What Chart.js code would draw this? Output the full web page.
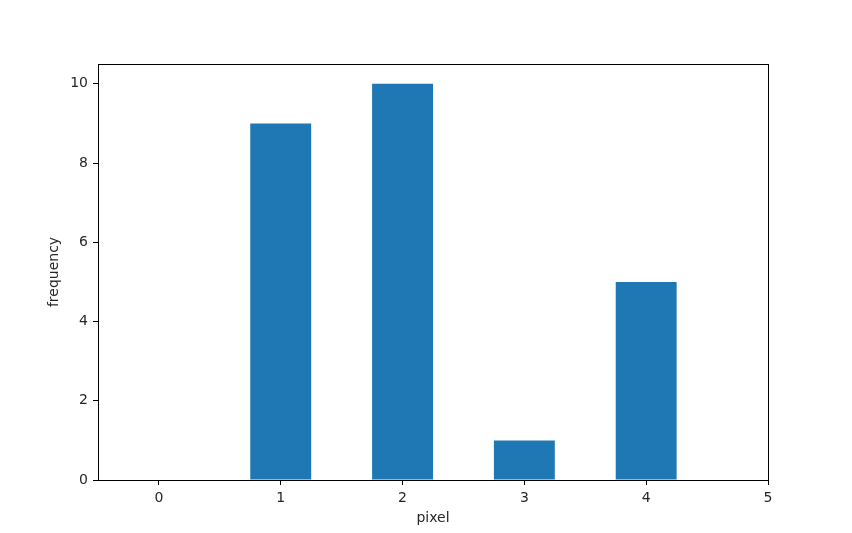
<!DOCTYPE html>
<html>
<head>
<meta charset="utf-8">
<script src="https://cdn.jsdelivr.net/npm/chart.js@4/dist/chart.umd.min.js"></script>
<style>
html,body{margin:0;padding:0;background:#fff;}
#wrap{width:852px;height:533px;}
</style>
</head>
<body>
<div id="wrap"><canvas id="c" width="852" height="533"></canvas></div>
<script>
const pixels = [0, 1, 2, 3, 4];
const frequency = [0, 9, 10, 1, 5];
const xTicks = [0, 1, 2, 3, 4, 5];
const yTicks = [0, 2, 4, 6, 8, 10];

const font = {family: 'DejaVu Sans', size: 14};
const txt = '#262626';

const framePlugin = {
  id: 'frame',
  afterDraw(chart) {
    const a = chart.chartArea, ctx = chart.ctx;
    ctx.save();
    ctx.strokeStyle = '#000';
    ctx.lineWidth = 1;
    ctx.strokeRect(Math.round(a.left) + 0.5, Math.round(a.top) + 0.5,
                   Math.round(a.right - a.left), Math.round(a.bottom - a.top));
    ctx.restore();
  }
};

new Chart(document.getElementById('c'), {
  type: 'bar',
  data: {
    datasets: [{
      data: pixels.map((p, i) => ({x: p, y: frequency[i]})),
      backgroundColor: '#1f77b4',
      borderColor: '#1f77b4',
      borderWidth: 0,
      barPercentage: 1.0,
      categoryPercentage: 0.5
    }]
  },
  options: {
    responsive: false,
    animation: false,
    devicePixelRatio: 1,
    layout: {padding: {left: 46, right: 84, top: 64, bottom: 6}},
    plugins: {legend: {display: false}, tooltip: {enabled: false}},
    scales: {
      x: {
        type: 'linear',
        min: -0.5, max: 5,
        offset: false,
        afterBuildTicks: ax => { ax.ticks = xTicks.map(v => ({value: v})); },
        afterFit: ax => { ax.height = 47; },
        grid: {drawOnChartArea: false, tickLength: 5, tickColor: '#000', offset: false},
        border: {display: true, color: '#000'},
        ticks: {font, color: txt, padding: 5, maxRotation: 0, autoSkip: false},
        title: {display: true, text: 'pixel', font, color: txt, padding: {top: 2, bottom: 0}}
      },
      y: {
        type: 'linear',
        min: 0, max: 10.5,
        afterBuildTicks: ax => { ax.ticks = yTicks.map(v => ({value: v})); },
        afterFit: ax => { ax.width = 52; },
        grid: {drawOnChartArea: false, tickLength: 5, tickColor: '#000'},
        border: {display: true, color: '#000'},
        ticks: {font, color: txt, padding: 5},
        title: {display: true, text: 'frequency', font, color: txt, padding: {top: 0, bottom: 0}}
      }
    }
  },
  plugins: [framePlugin]
});
</script>
</body>
</html>
